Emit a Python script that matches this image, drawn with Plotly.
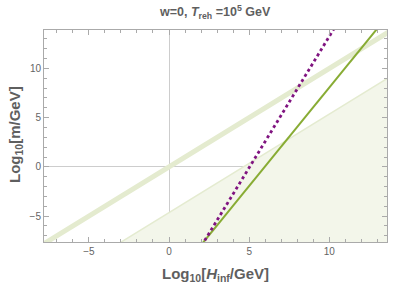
import plotly.graph_objects as go

# lines (end points in data units)
band_x = [-8.0, 14.0]
band_y = [-8.0, 14.0]

shade_x = [-3.35, 14.0, 14.0, -3.35]
shade_y = [-8.0, 9.35, -8.0, -8.0]

green_x = [1.97, 12.97]
green_y = [-8.0, 14.0]

purple_x = [2.03, 10.28]
purple_y = [-8.0, 14.0]

x_ticks = [-5, 0, 5, 10]
y_ticks = [-5, 0, 5, 10]

W, H = 399, 288
L, R, T, B = 44, 12, 30, 46
PW, PH = W - L - R, H - T - B


def px(xp):
    return (xp - L) / PW


def py(yp):
    return ((H - B) - yp) / PH


fig = go.Figure()
fig.add_trace(go.Scatter(x=shade_x, y=shade_y, fill="toself", mode="lines",
                         fillcolor="rgb(243,246,234)",
                         line=dict(color="rgba(0,0,0,0)", width=0), hoverinfo="skip"))
fig.add_trace(go.Scatter(x=shade_x[:2], y=shade_y[:2], mode="lines",
                         line=dict(color="rgb(228,235,208)", width=1.5), hoverinfo="skip"))
fig.add_trace(go.Scatter(x=band_x, y=band_y, mode="lines",
                         line=dict(color="rgb(228,235,207)", width=5)))
fig.add_trace(go.Scatter(x=green_x, y=green_y, mode="lines",
                         line=dict(color="rgb(136,172,52)", width=2)))
fig.add_trace(go.Scatter(x=purple_x, y=purple_y, mode="lines",
                         line=dict(color="rgb(128,20,128)", width=2.8, dash="dot")))

axcommon = dict(showgrid=False, zeroline=True, zerolinecolor="rgb(205,205,205)", zerolinewidth=1,
                showline=True, linecolor="rgb(170,170,170)", linewidth=1, mirror="allticks",
                ticks="inside", ticklen=5, tickcolor="rgb(170,170,170)", tickwidth=1,
                automargin=False,
                minor=dict(dtick=1, ticks="inside", ticklen=3, tickcolor="rgb(170,170,170)"),
                tickfont=dict(family="Liberation Sans, Arial", size=10, color="rgb(100,100,100)"))

lab_font = dict(family="Liberation Sans, Arial", size=15, color="rgb(95,95,95)", weight="bold")

fig.update_layout(
    width=W, height=H,
    margin=dict(l=L, r=R, t=T, b=B, autoexpand=False),
    plot_bgcolor="white", paper_bgcolor="white",
    showlegend=False,
    xaxis=dict(range=[-7.8, 13.6], tickvals=x_ticks, ticktext=["\u22125", "0", "5", "10"], **axcommon),
    yaxis=dict(range=[-7.63, 13.9], tickvals=y_ticks, ticktext=["\u22125", "0", "5", "10"], **axcommon),
    annotations=[
        dict(text="w=0, <i>T</i><sub>reh</sub> =10<sup>5</sup> GeV", xref="paper", yref="paper",
             x=px(215), y=py(12), xanchor="center", yanchor="middle", showarrow=False,
             font=dict(family="Liberation Sans, Arial", size=12.5, color="rgb(95,95,95)", weight="bold")),
        dict(text="Log<sub>10</sub>[<i>H</i><sub>inf</sub>/GeV]", xref="paper", yref="paper",
             x=px(215), y=py(274), xanchor="center", yanchor="middle", showarrow=False, font=lab_font),
        dict(text="Log<sub>10</sub>[m/GeV]", xref="paper", yref="paper",
             x=px(15), y=py(135), textangle=-90,
             xanchor="center", yanchor="middle", showarrow=False, font=lab_font),
    ],
)

fig.write_html("out.html", config={"displayModeBar": False},
               post_script="document.body.style.margin='0';")
